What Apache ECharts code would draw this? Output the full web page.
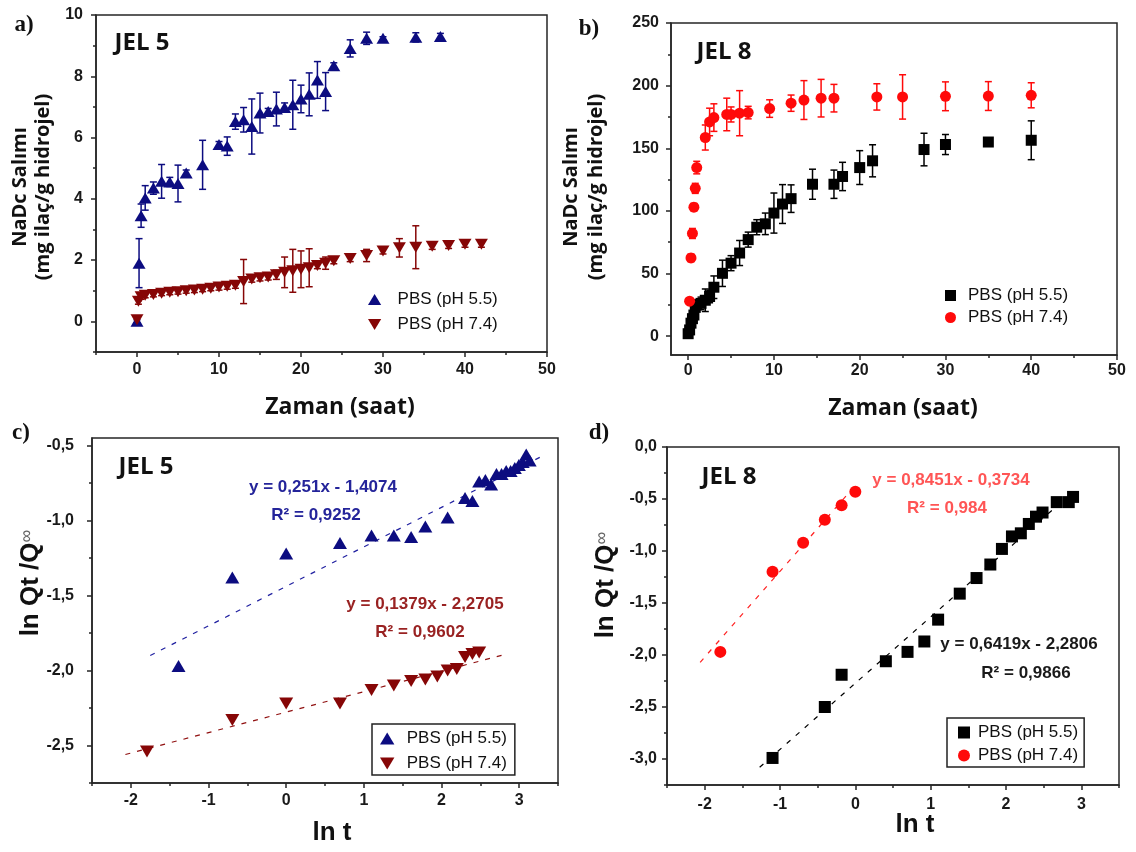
<!DOCTYPE html>
<html><head><meta charset="utf-8">
<script src="https://cdn.jsdelivr.net/npm/echarts@6/dist/echarts.min.js"></script>
<style>html,body{margin:0;padding:0;background:#fff}#c{width:1136px;height:852px}</style>
</head><body><div id="c"></div>
<script>
// ---------- DATA ----------
// Panel a (JEL 5, release vs time)
const aT55 = [0, 0.25, 0.5, 1, 2, 3, 4, 5, 6, 8, 10, 11, 12, 13, 14, 15, 16, 17, 18, 19, 20, 21, 22, 23, 24, 26, 28, 30, 34, 37];
const aY55 = [0, 1.9, 3.45, 4.03, 4.35, 4.57, 4.55, 4.5, 4.84, 5.11, 5.77, 5.72, 6.52, 6.58, 6.36, 6.8, 6.85, 6.93, 6.98, 7.07, 7.26, 7.41, 7.88, 7.5, 8.34, 8.91, 9.24, 9.24, 9.27, 9.3];
const aE55 = [0.05, 0.8, 0.38, 0.4, 0.2, 0.55, 0.15, 0.6, 0.1, 0.8, 0.1, 0.3, 0.25, 0.4, 0.9, 0.65, 0.1, 0.55, 0.15, 0.8, 0.45, 0.7, 0.6, 0.62, 0.1, 0.28, 0.2, 0.05, 0.15, 0.1];
const aT74 = [0, 0.17, 0.5, 1, 2, 3, 4, 5, 6, 7, 8, 9, 10, 11, 12, 13, 14, 15, 16, 17, 18, 19, 20, 21, 22, 23, 24, 26, 28, 30, 32, 34, 36, 38, 40, 42];
const aY74 = [0.05, 0.66, 0.8, 0.85, 0.88, 0.92, 0.95, 0.97, 1.0, 1.02, 1.05, 1.08, 1.12, 1.15, 1.18, 1.3, 1.38, 1.42, 1.45, 1.52, 1.6, 1.65, 1.7, 1.75, 1.82, 1.9, 1.98, 2.05, 2.15, 2.3, 2.4, 2.42, 2.45, 2.48, 2.52, 2.52];
const aE74 = [0.1, 0.1, 0.08, 0.08, 0.08, 0.08, 0.08, 0.08, 0.08, 0.08, 0.08, 0.08, 0.1, 0.1, 0.1, 0.72, 0.1, 0.1, 0.1, 0.15, 0.5, 0.7, 0.6, 0.62, 0.1, 0.2, 0.1, 0.1, 0.2, 0.1, 0.3, 0.7, 0.1, 0.1, 0.1, 0.1];
// Panel b (JEL 8, release vs time)
const bT55 = [0, 0.17, 0.33, 0.5, 0.67, 0.83, 1, 1.5, 2, 2.5, 3, 4, 5, 6, 7, 8, 9, 10, 11, 12, 14.5, 17, 18, 20, 21.5, 27.5, 30, 35, 40];
const bY55 = [2, 5, 10.4, 14, 16.9, 23, 25, 26.2, 28.7, 31.7, 39.1, 50.2, 58.3, 66.4, 77.1, 87, 89.7, 98.3, 105.5, 109.8, 121.3, 121.3, 127.5, 134.6, 140, 149, 153, 155, 156.4];
const bE55 = [1, 1, 2, 2, 3, 3, 4, 5, 9, 5, 9, 10.5, 6, 10, 6, 6, 8.6, 16, 15.5, 11, 12, 11.3, 11.3, 13.5, 12.8, 13, 8, 0, 15.5];
const bT74 = [0.17, 0.33, 0.5, 0.67, 0.83, 1, 2, 2.5, 3, 4.5, 5, 6, 7, 9.5, 12, 13.5, 15.5, 17, 22, 25, 30, 35, 40];
const bY74 = [28, 62.5, 82, 103, 118, 134.6, 158.6, 171, 174.5, 177, 177, 178, 178.5, 181.7, 186, 188.5, 190, 190, 191, 191, 191.5, 191.7, 192.3];
const bE74 = [2, 3, 4, 3, 4, 5, 10, 11, 11, 13, 6, 18, 5, 7, 6.5, 15.5, 15, 11, 10.5, 17.7, 11.5, 11.5, 10];
// Panel c (JEL 5, ln Qt/Qinf vs ln t)
const cX55 = [-1.386, -0.693, 0, 0.693, 1.099, 1.386, 1.609, 1.792, 2.079, 2.303, 2.398, 2.485, 2.565, 2.639, 2.708, 2.773, 2.833, 2.890, 2.944, 2.996, 3.045, 3.091, 3.135];
const cY55 = [-1.97, -1.38, -1.22, -1.15, -1.10, -1.10, -1.11, -1.04, -0.98, -0.85, -0.87, -0.74, -0.73, -0.76, -0.69, -0.69, -0.67, -0.67, -0.65, -0.63, -0.61, -0.56, -0.60];
const cX74 = [-1.792, -0.693, 0, 0.693, 1.099, 1.386, 1.609, 1.792, 1.946, 2.079, 2.197, 2.303, 2.398, 2.485];
const cY74 = [-2.54, -2.33, -2.22, -2.22, -2.13, -2.10, -2.07, -2.06, -2.04, -2.00, -1.99, -1.91, -1.89, -1.88];
const cFit55 = [[-1.75, -1.90], [3.30, -0.57]];
const cFit74 = [[-2.07, -2.56], [2.84, -1.89]];
// Panel d (JEL 8, ln Qt/Qinf vs ln t)
const dX55 = [-1.099, -0.405, -0.182, 0.405, 0.693, 0.916, 1.099, 1.386, 1.609, 1.792, 1.946, 2.079, 2.197, 2.303, 2.398, 2.485, 2.674, 2.833, 2.890];
const dY55 = [-2.99, -2.50, -2.19, -2.06, -1.97, -1.87, -1.66, -1.41, -1.26, -1.13, -0.98, -0.86, -0.83, -0.74, -0.67, -0.63, -0.53, -0.53, -0.48];
const dX74 = [-1.792, -1.099, -0.693, -0.405, -0.182, 0];
const dY74 = [-1.97, -1.20, -0.92, -0.70, -0.56, -0.43];
const dFit55 = [[-1.27, -3.08], [2.75, -0.52]];
const dFit74 = [[-2.06, -2.07], [0.0, -0.37]];
// Tick values
const aXMaj = [0, 10, 20, 30, 40, 50], aXMin = [-5, 5, 15, 25, 35, 45];
const aYMaj = [0, 2, 4, 6, 8, 10], aYMin = [-1, 1, 3, 5, 7, 9];
const bXMaj = [0, 10, 20, 30, 40, 50], bXMin = [5, 15, 25, 35, 45];
const bYMaj = [0, 50, 100, 150, 200, 250], bYMin = [25, 75, 125, 175, 225];
const lnXMaj = [-2, -1, 0, 1, 2, 3], lnXMin = [-2.5, -1.5, -0.5, 0.5, 1.5, 2.5, 3.5];
const cYMaj = [-2.5, -2, -1.5, -1, -0.5], cYMin = [-2.75, -2.25, -1.75, -1.25, -0.75];
const dYMaj = [-3, -2.5, -2, -1.5, -1, -0.5, 0], dYMin = [-3.25, -2.75, -2.25, -1.75, -1.25, -0.75, -0.25];
const LEG = { a55: 'PBS (pH 5.5)', a74: 'PBS (pH 7.4)', b55: 'PBS (pH 5.5)', b74: 'PBS (pH 7.4)',
              c55: 'PBS (pH 5.5)', c74: 'PBS (pH 7.4)', d55: 'PBS (pH 5.5)', d74: 'PBS (pH 7.4)' };

// ---------- STYLE ----------
const ARIAL = '"Liberation Sans", Arial, sans-serif';
const SANS = '"Open Sans", sans-serif';
const SERIF = '"Liberation Serif", serif';
const AX = '#262626';
const NAVY = '#0c0c80', DRED = '#860606', RED = '#ff0a0a', BLK = '#000000';
const TRI_UP = 'path://M0,10L6,0L12,10Z';
const TRI_DN = 'path://M0,0L12,0L6,10Z';
const SQ = 'path://M0,0L10,0L10,10L0,10Z';
const CIRC = 'path://M5,0A5,5,0,1,1,5,10A5,5,0,1,1,5,0Z';

const zip2 = (a, b) => a.map((v, i) => [v, b[i]]);
const zip3 = (a, b, c) => a.map((v, i) => [v, b[i], c[i]]);
const intFmt = v => String(v);
const commaFmt = v => v.toFixed(1).replace('.', ',');

const grids = [
  { left: 96, top: 15, width: 451, height: 337 },
  { left: 671, top: 23, width: 446, height: 332 },
  { left: 92, top: 438, width: 466, height: 345 },
  { left: 667, top: 447, width: 452, height: 338 }
].map(g => Object.assign(g, { show: true, borderColor: AX, borderWidth: 1.5, backgroundColor: 'transparent' }));

function axisPair(gi, dim, range, maj, min, fmt, margin) {
  const pos = dim === 'x' ? 'bottom' : 'left';
  const main = {
    gridIndex: gi, type: 'value', min: range[0], max: range[1], position: pos, offset: 0,
    axisLine: { show: true, onZero: false, lineStyle: { color: AX, width: 1.5 } },
    axisTick: { show: true, length: 5, customValues: maj, lineStyle: { color: AX, width: 1.5 } },
    axisLabel: { show: true, customValues: maj, formatter: fmt, margin: margin,
      fontFamily: ARIAL, fontWeight: 'bold', fontSize: 16, color: '#1a1a1a' },
    splitLine: { show: false }
  };
  const minor = {
    gridIndex: gi, type: 'value', min: range[0], max: range[1], position: pos, offset: 0,
    axisLine: { show: false, onZero: false },
    axisTick: { show: true, length: 3, customValues: min, lineStyle: { color: AX, width: 1.5 } },
    axisLabel: { show: false }, splitLine: { show: false }
  };
  return [main, minor];
}

const xAxis = [].concat(
  axisPair(0, 'x', [-5, 50], aXMaj, aXMin, intFmt, 10),
  axisPair(1, 'x', [-2, 50], bXMaj, bXMin, intFmt, 8),
  axisPair(2, 'x', [-2.5, 3.5], lnXMaj, lnXMin, intFmt, 10),
  axisPair(3, 'x', [-2.5, 3.5], lnXMaj, lnXMin, intFmt, 12)
);
const yAxis = [].concat(
  axisPair(0, 'y', [-1, 10], aYMaj, aYMin, intFmt, 13),
  axisPair(1, 'y', [-15, 250], bYMaj, bYMin, intFmt, 12),
  axisPair(2, 'y', [-2.75, -0.45], cYMaj, cYMin, commaFmt, 18),
  axisPair(3, 'y', [-3.25, 0], dYMaj, dYMin, commaFmt, 10)
);

function errSeries(gi, data, color, cap) {
  return {
    type: 'custom', xAxisIndex: gi * 2, yAxisIndex: gi * 2, data: data, z: 1, silent: true,
    encode: { x: 0, y: 1 },
    renderItem: function (params, api) {
      const x = api.value(0), y = api.value(1), e = api.value(2);
      if (!e) return null;
      const t = api.coord([x, y + e]), b = api.coord([x, y - e]);
      const st = { stroke: color, lineWidth: 1.5 };
      return { type: 'group', children: [
        { type: 'line', shape: { x1: t[0], y1: t[1], x2: b[0], y2: b[1] }, style: st },
        { type: 'line', shape: { x1: t[0] - cap / 2, y1: t[1], x2: t[0] + cap / 2, y2: t[1] }, style: st },
        { type: 'line', shape: { x1: b[0] - cap / 2, y1: b[1], x2: b[0] + cap / 2, y2: b[1] }, style: st }
      ] };
    }
  };
}
function scat(gi, name, data, symbol, size, color) {
  return { type: 'scatter', name: name, xAxisIndex: gi * 2, yAxisIndex: gi * 2, data: data,
    symbol: symbol, symbolSize: size, itemStyle: { color: color, opacity: 1 }, z: 3, silent: true };
}
function fit(gi, data, color) {
  return { type: 'line', name: 'fit', xAxisIndex: gi * 2, yAxisIndex: gi * 2, data: data, showSymbol: false,
    symbol: 'none', lineStyle: { color: color, width: 1.2, type: [5, 7] }, z: 2, silent: true };
}

const series = [
  errSeries(0, zip3(aT55, aY55, aE55), NAVY, 7),
  errSeries(0, zip3(aT74, aY74, aE74), DRED, 7),
  scat(0, 'a55', zip2(aT55, aY55), TRI_UP, [13, 11], NAVY),
  scat(0, 'a74', zip2(aT74, aY74), TRI_DN, [13, 11], DRED),
  errSeries(1, zip3(bT55, bY55, bE55), BLK, 7),
  errSeries(1, zip3(bT74, bY74, bE74), RED, 7),
  scat(1, 'b55', zip2(bT55, bY55), SQ, [11, 11], BLK),
  scat(1, 'b74', zip2(bT74, bY74), CIRC, [11, 11], RED),
  fit(2, cFit55, '#2020a0'),
  fit(2, cFit74, '#901010'),
  scat(2, 'c55', zip2(cX55, cY55), TRI_UP, [14, 12], NAVY),
  scat(2, 'c74', zip2(cX74, cY74), TRI_DN, [14, 12], DRED),
  fit(3, dFit74, '#ff2020'),
  fit(3, dFit55, '#000'),
  scat(3, 'd55', zip2(dX55, dY55), SQ, [12, 12], BLK),
  scat(3, 'd74', zip2(dX74, dY74), CIRC, [12, 12], RED)
];

const legTxt = { fontFamily: ARIAL, fontSize: 17, color: '#111', lineHeight: 17 };
const legFmt = n => LEG[n];
const legend = [
  { orient: 'vertical', left: 368, top: 291, padding: 0, itemGap: 8, itemWidth: 36, itemHeight: 11,
    data: [{ name: 'a55', icon: TRI_UP }, { name: 'a74', icon: TRI_DN }], formatter: legFmt, textStyle: legTxt, selectedMode: false },
  { orient: 'vertical', left: 945, top: 287, padding: 0, itemGap: 5, itemWidth: 25, itemHeight: 11,
    data: [{ name: 'b55', icon: SQ }, { name: 'b74', icon: CIRC }], formatter: legFmt, textStyle: legTxt, selectedMode: false },
  { orient: 'vertical', left: 372, top: 724, padding: [6, 8, 3, 8], itemGap: 8, itemWidth: 29, itemHeight: 12,
    borderColor: '#222', borderWidth: 1.5,
    data: [{ name: 'c55', icon: TRI_UP }, { name: 'c74', icon: TRI_DN }], formatter: legFmt, textStyle: legTxt, selectedMode: false },
  { orient: 'vertical', left: 947, top: 718, padding: [6, 6, 3, 11], itemGap: 6, itemWidth: 18, itemHeight: 12,
    borderColor: '#222', borderWidth: 1.5,
    data: [{ name: 'd55', icon: SQ }, { name: 'd74', icon: CIRC }], formatter: legFmt, textStyle: legTxt, selectedMode: false }
];

function txt(x, y, text, size, family, weight, color, extra) {
  return Object.assign({ type: 'text', x: x, y: y, silent: true,
    style: { text: text, fontSize: size, fontFamily: family, fontWeight: weight, fill: color,
      align: 'center', verticalAlign: 'middle' } }, extra || {});
}
const graphic = [
  txt(24, 25, 'a)', 23, SERIF, 'bold', '#111'),
  txt(589, 29, 'b)', 23, SERIF, 'bold', '#111'),
  txt(21, 433, 'c)', 23, SERIF, 'bold', '#111'),
  txt(599, 433, 'd)', 23, SERIF, 'bold', '#111'),
  txt(142, 43, 'JEL 5', 24, SANS, 'bold', '#111'),
  txt(724, 52, 'JEL 8', 24, SANS, 'bold', '#111'),
  txt(146, 467, 'JEL 5', 24, SANS, 'bold', '#111'),
  txt(729, 477, 'JEL 8', 24, SANS, 'bold', '#111'),
  txt(340, 407, 'Zaman (saat)', 23, SANS, 'bold', '#111'),
  txt(903, 408, 'Zaman (saat)', 23, SANS, 'bold', '#111'),
  txt(332, 833, 'ln t', 26, ARIAL, 'bold', '#111'),
  txt(915, 825, 'ln t', 26, ARIAL, 'bold', '#111'),
  { type: 'text', x: 31.5, y: 187, rotation: Math.PI / 2, silent: true,
    style: { text: 'NaDc Salımı\n(mg ilaç/g hidrojel)', fontSize: 20, fontFamily: SANS, fontWeight: 'bold', fill: '#111',
      align: 'center', verticalAlign: 'middle', lineHeight: 23 } },
  { type: 'text', x: 584, y: 187, rotation: Math.PI / 2, silent: true,
    style: { text: 'NaDc Salımı\n(mg ilaç/g hidrojel)', fontSize: 20, fontFamily: SANS, fontWeight: 'bold', fill: '#111',
      align: 'center', verticalAlign: 'middle', lineHeight: 25 } },
  { type: 'text', x: 31, y: 583, rotation: Math.PI / 2, silent: true,
    style: { text: 'ln Qt /Q{s|∞}', fontSize: 26, fontFamily: ARIAL, fontWeight: 'bold', fill: '#111',
      align: 'center', verticalAlign: 'middle', rich: { s: { fontSize: 18, fontFamily: ARIAL, fill: '#666', verticalAlign: 'top' } } } },
  { type: 'text', x: 606, y: 585, rotation: Math.PI / 2, silent: true,
    style: { text: 'ln Qt /Q{s|∞}', fontSize: 26, fontFamily: ARIAL, fontWeight: 'bold', fill: '#111',
      align: 'center', verticalAlign: 'middle', rich: { s: { fontSize: 18, fontFamily: ARIAL, fill: '#666', verticalAlign: 'top' } } } },
  txt(323, 487, 'y = 0,251x - 1,4074', 17, ARIAL, 'bold', '#24249a'),
  txt(316, 515, 'R² = 0,9252', 17, ARIAL, 'bold', '#24249a'),
  txt(425, 604, 'y = 0,1379x - 2,2705', 17, ARIAL, 'bold', '#992222'),
  txt(420, 632, 'R² = 0,9602', 17, ARIAL, 'bold', '#992222'),
  txt(951, 480, 'y = 0,8451x - 0,3734', 17, ARIAL, 'bold', '#ff5555'),
  txt(947, 508, 'R² = 0,984', 17, ARIAL, 'bold', '#ff5555'),
  txt(1019, 644, 'y = 0,6419x - 2,2806', 17, ARIAL, 'bold', '#1a1a1a'),
  txt(1026, 673, 'R² = 0,9866', 17, ARIAL, 'bold', '#1a1a1a')
];

const chart = echarts.init(document.getElementById('c'), null, { renderer: 'canvas' });
chart.setOption({
  animation: false, backgroundColor: '#fff',
  grid: grids, xAxis: xAxis, yAxis: yAxis, series: series, legend: legend, graphic: graphic
});
</script></body></html>
